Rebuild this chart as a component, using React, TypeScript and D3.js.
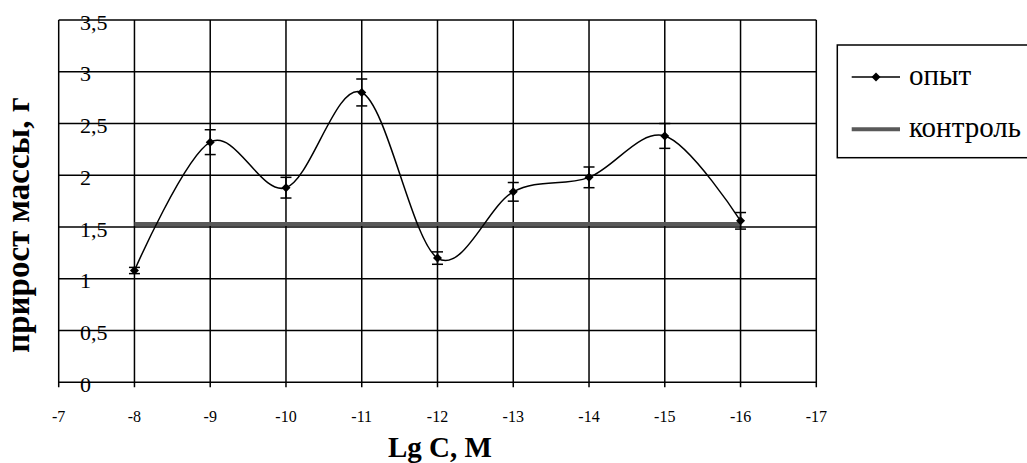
import React from "react";
import * as d3 from "d3";

const xValues = [-8, -9, -10, -11, -12, -13, -14, -15, -16];
const experiment = [1.08, 2.32, 1.88, 2.8, 1.2, 1.84, 1.98, 2.38, 1.56];
const errors = [0.03, 0.12, 0.1, 0.13, 0.06, 0.09, 0.1, 0.12, 0.08];
const controlValue = 1.53;
const xTicks = [-7, -8, -9, -10, -11, -12, -13, -14, -15, -16, -17];
const yTicks = [0, 0.5, 1, 1.5, 2, 2.5, 3, 3.5];
const yTickLabels = ["0", "0,5", "1", "1,5", "2", "2,5", "3", "3,5"];
const legendLabels = ["опыт", "контроль"];

const W = 1027;
const H = 463;
const FONT = "'Liberation Serif', 'Times New Roman', serif";

export default function App() {
  const x = d3.scaleLinear().domain([-7, -17]).range([58.7, 816.3]);
  const y = d3.scaleLinear().domain([0, 3.5]).range([382.3, 20]);

  const line = d3
    .line<number>()
    .x((_, i) => x(xValues[i]))
    .y((d) => y(d))
    .curve(d3.curveCardinal.tension(0));

  const diamond = (cx: number, cy: number, r: number) =>
    `M${cx},${cy - r}L${cx + r},${cy}L${cx},${cy + r}L${cx - r},${cy}Z`;

  return (
    <svg
      width={W}
      height={H}
      style={{ position: "absolute", left: 0, top: 0, background: "#fff" }}
    >
      {/* horizontal grid */}
      {yTicks.map((t) => (
        <line
          key={"h" + t}
          x1={x(-7)}
          x2={x(-17)}
          y1={y(t)}
          y2={y(t)}
          stroke="#000"
          strokeWidth={1.5}
        />
      ))}
      {/* vertical grid + ticks */}
      {xTicks.map((t) => (
        <line
          key={"v" + t}
          x1={x(t)}
          x2={x(t)}
          y1={y(3.5)}
          y2={y(0) + 5}
          stroke="#000"
          strokeWidth={1.5}
        />
      ))}
      {/* y tick labels inside plot */}
      {yTicks.map((t, i) => (
        <text
          key={"yl" + t}
          x={80}
          y={y(t) + 9.5}
          fontFamily={FONT}
          fontSize={22}
          fill="#000"
        >
          {yTickLabels[i]}
        </text>
      ))}
      {/* x tick labels */}
      {xTicks.map((t) => (
        <text
          key={"xl" + t}
          x={x(t)}
          y={422}
          textAnchor="middle"
          fontFamily={FONT}
          fontSize={16}
          fill="#000"
        >
          {t}
        </text>
      ))}
      {/* control line */}
      <line
        x1={x(-8)}
        x2={x(-16)}
        y1={y(controlValue)}
        y2={y(controlValue)}
        stroke="#595959"
        strokeWidth={4}
      />
      {/* experiment curve */}
      <path d={line(experiment) || ""} fill="none" stroke="#000" strokeWidth={1.5} />
      {/* error bars */}
      {experiment.map((v, i) => {
        const cx = x(xValues[i]);
        const e = errors[i];
        return (
          <g key={"e" + i} stroke="#000" strokeWidth={1.5}>
            <line x1={cx} x2={cx} y1={y(v + e)} y2={y(v - e)} />
            <line x1={cx - 5.5} x2={cx + 5.5} y1={y(v + e)} y2={y(v + e)} />
            <line x1={cx - 5.5} x2={cx + 5.5} y1={y(v - e)} y2={y(v - e)} />
          </g>
        );
      })}
      {/* markers */}
      {experiment.map((v, i) => (
        <path key={"m" + i} d={diamond(x(xValues[i]), y(v), 4.5)} fill="#000" />
      ))}
      {/* axis titles */}
      <text
        x={440}
        y={457}
        textAnchor="middle"
        fontFamily={FONT}
        fontSize={29}
        fontWeight="bold"
        fill="#000"
      >
        Lg C, M
      </text>
      <text
        transform="translate(29,225) rotate(-90)"
        textAnchor="middle"
        fontFamily={FONT}
        fontSize={33}
        fontWeight="bold"
        fill="#000"
      >
        прирост массы, г
      </text>
      {/* legend */}
      <rect
        x={837.3}
        y={45}
        width={W}
        height={112.7}
        fill="#fff"
        stroke="#000"
        strokeWidth={1.5}
      />
      <line x1={851.7} x2={900} y1={77} y2={77} stroke="#000" strokeWidth={1.5} />
      <path d={diamond(876, 77, 4.5)} fill="#000" />
      <text x={909} y={85} fontFamily={FONT} fontSize={29} fill="#000">
        {legendLabels[0]}
      </text>
      <line x1={851.7} x2={900} y1={129.3} y2={129.3} stroke="#595959" strokeWidth={4} />
      <text x={909} y={136.5} fontFamily={FONT} fontSize={29} fill="#000">
        {legendLabels[1]}
      </text>
    </svg>
  );
}
